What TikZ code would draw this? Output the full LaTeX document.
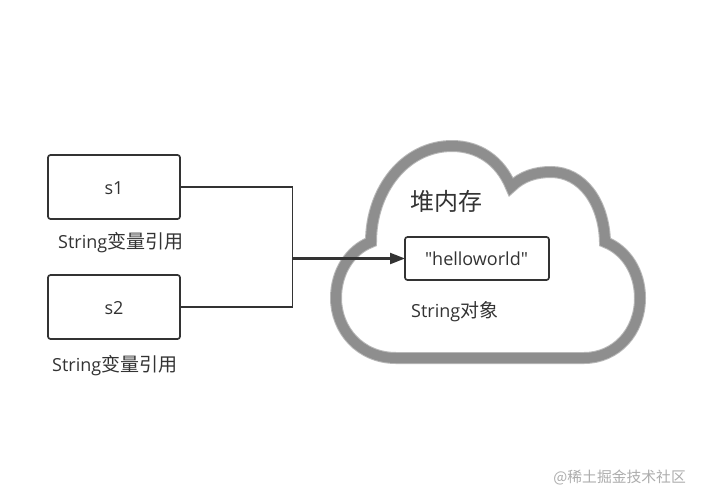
\documentclass[tikz,border=0pt]{standalone}
\usepackage{fontspec}
\setmainfont{Open Sans}
\newfontfamily\latn{Open Sans}
\newfontfamily\cjk{Noto Sans CJK SC}
\usetikzlibrary{arrows.meta}
\definecolor{ink}{HTML}{333333}
\definecolor{cloudgray}{HTML}{8E8E8E}
\definecolor{cloudsoft}{HTML}{B8B8B8}
\tikzset{
  x=1pt,y=-1pt,
  refbox/.style={draw=ink,line width=1.7pt,rounded corners=2.5pt,fill=white,anchor=north west,inner sep=0pt,outer sep=0pt},
  lbl/.style={text=ink,font=\fontsize{18}{20}\selectfont,inner sep=0pt},
  cjklbl/.style={lbl,anchor=west},
  wire/.style={draw=ink,line width=1.8pt},
  cloudshape/.pic={
    \path[pic actions]
      (396,358)
      .. controls (360,358) and (336,330) .. (336,298)
      .. controls (336,272) and (350,250) .. (371,242)
      .. controls (371,190) and (405,146) .. (452,146)
      .. controls (478,146) and (500,160) .. (511,187)
      .. controls (522,176) and (536,172) .. (551,172)
      .. controls (582,172) and (604,202) .. (605,242)
      .. controls (626,250) and (640,272) .. (640,298)
      .. controls (640,332) and (616,358) .. (584,358)
      -- cycle;
  }
}
\newcommand{\cj}[1]{{\fontsize{19}{20}\selectfont\cjk #1}}
\begin{document}
\begin{tikzpicture}
\useasboundingbox (0,0) rectangle (701,501);
\fill[white] (0,0) rectangle (701,501);
% cloud
\pic[draw=cloudsoft,line width=12pt,line join=miter,fill=white] {cloudshape};
\pic[draw=cloudgray,line width=10pt,line join=miter] {cloudshape};
\node[refbox,minimum width=132pt,minimum height=64pt] (a) at (48,155) {};
\node[refbox,minimum width=132pt,minimum height=64pt] (b) at (48,275) {};
\node[refbox,minimum width=144pt,minimum height=43pt] (c) at (405,237) {};
\node[lbl] (s1) at (114,188) {s1};
\node[lbl] (s2) at (114,308) {s2};
\node[lbl,font=\fontsize{18}{20}\selectfont\latn] (h) at (476.5,258.5) {"helloworld"};
\node[cjklbl] (t1) at (58,242.7) {String\cj{变量引用}};
\node[cjklbl] (t2) at (52,365.7) {String\cj{变量引用}};
\node[cjklbl] (t3) at (411,312) {String\cj{对象}};
\node[lbl,anchor=west,font=\fontsize{24}{28}\selectfont\cjk] (t4) at (410,201) {堆内存};
\node[anchor=east,inner sep=0pt,text=black!32,font=\fontsize{14.8}{18}\selectfont\cjk] (w) at (686,477) {@稀土掘金技术社区};
\coordinate (j) at (292.5,258.5);
\draw[wire] (a.east) -| (j);
\draw[wire] (b.east) -| (j);
\draw[wire,line width=2.2pt,-{Triangle[length=15pt,width=11pt]}] (j) -- (c.west);
\end{tikzpicture}
\end{document}
